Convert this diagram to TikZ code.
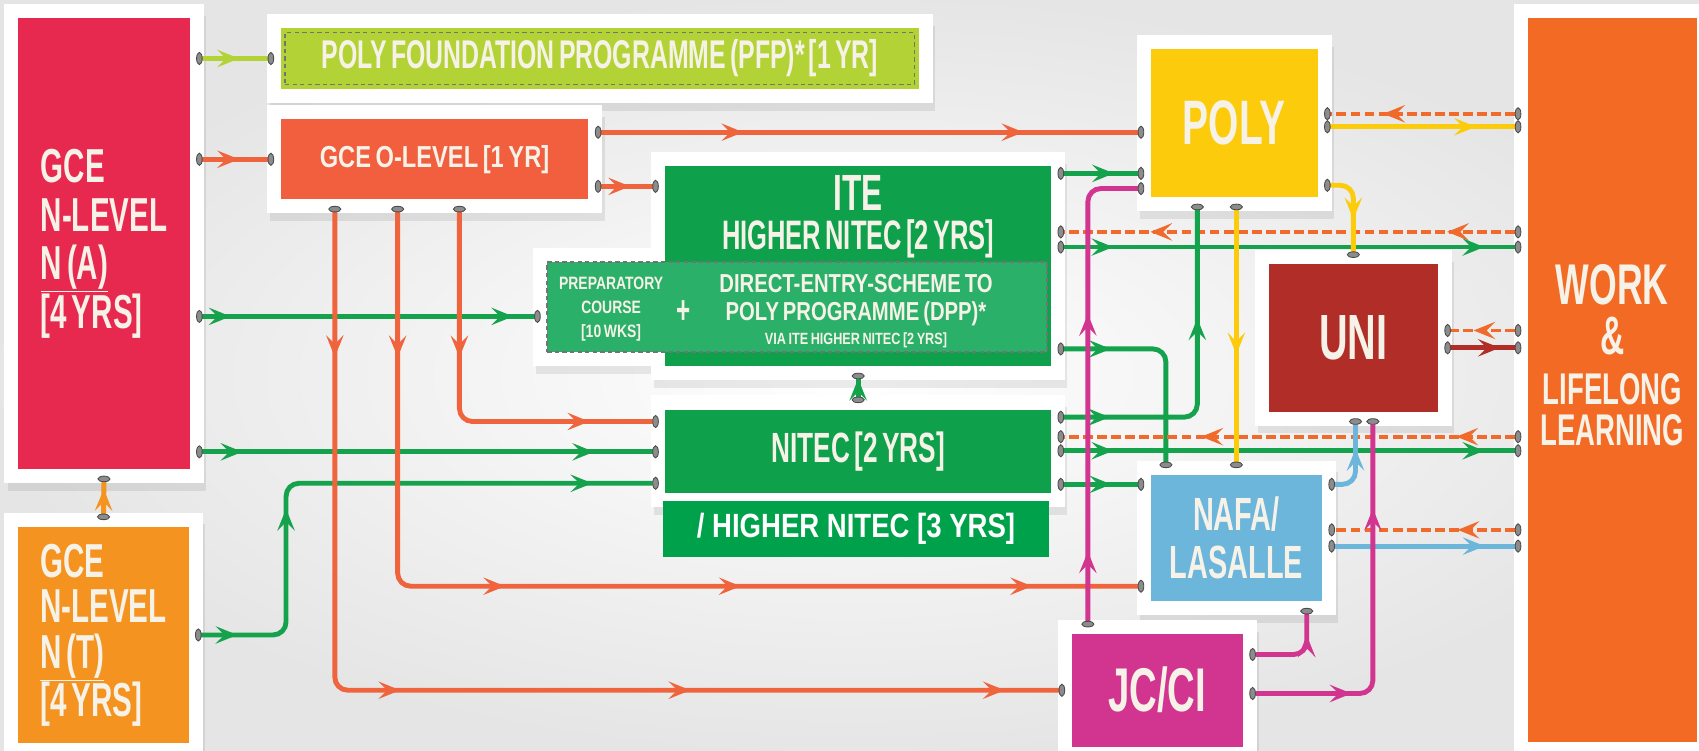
\documentclass[tikz,border=0pt]{standalone}
\usepackage{fontspec}
\usetikzlibrary{arrows.meta,decorations.markings,backgrounds}

\newfontfamily\dispfont{Liberation Sans}[FakeStretch=0.62, WordSpace=0.6]
\newfontfamily\midfont{Liberation Sans}[FakeStretch=0.78, WordSpace=0.7]
\newfontfamily\narrowfont{Liberation Sans}[FakeStretch=0.82]
\newcommand\dfont[2]{\dispfont\bfseries\fontsize{#1}{#2}\selectfont}
\newcommand\mfont[2]{\midfont\bfseries\fontsize{#1}{#2}\selectfont}

\definecolor{naRed}{HTML}{E8294F}
\definecolor{ntOrange}{HTML}{F4931F}
\definecolor{pfpLime}{HTML}{B3D235}
\definecolor{olOrange}{HTML}{F15F3F}
\definecolor{iteGreen}{HTML}{0EA04B}
\definecolor{dppGreen}{HTML}{2BB06A}
\definecolor{hnGreen}{HTML}{00A14B}
\definecolor{polyYellow}{HTML}{FCCB0B}
\definecolor{uniRed}{HTML}{B02E27}
\definecolor{nafaBlue}{HTML}{6CB5DB}
\definecolor{jcMagenta}{HTML}{D1358F}
\definecolor{workOrange}{HTML}{F26A24}
\definecolor{lnGreen}{HTML}{15A24D}
\definecolor{lnOrange}{HTML}{EF643C}
\definecolor{dashOrange}{HTML}{F06A2C}
\definecolor{txtWhite}{HTML}{F6F2E8}

\tikzset{
  box/.style={fill=#1, inner sep=0pt, outer sep=6pt, text=txtWhite, align=center},
  txt/.style={text=txtWhite, inner sep=0pt, align=center},
  term/.tip={Ellipse[length=6pt, width=12pt, fill=black!45, color=black!70, line width=0.8pt]},
  chev/.tip={Stealth[length=20pt, width=16pt, inset=8pt]},
  link/.style={line width=4.5pt, term-term, rounded corners=12pt},
  dashlink/.style={link, line width=3.5pt, dash pattern=on 9pt off 4pt},
  mid/.style={postaction={decorate, decoration={markings, mark=at position #1 with {\arrow{chev}}}}},
}

\begin{document}
\begin{tikzpicture}[x=1pt, y=-1pt]
        \useasboundingbox (0,0) rectangle (1568,693);

        % Boxes
        \node[box=naRed, minimum width=158pt, minimum height=416pt, align=left, font=\dfont{44}{45}] (na) at (96,225) {GCE\\N-LEVEL\\\underline{N (A)}\\{[4 YRS]}};
        \node[box=ntOrange, minimum width=157pt, minimum height=200pt, align=left, font=\dfont{44}{42}] (nt) at (95.5,586) {GCE\\N-LEVEL\\\underline{N (T)}\\{[4 YRS]}};
        \node[box=pfpLime, draw=pfpLime, line width=8pt, outer sep=10pt, minimum width=581pt, minimum height=48pt, font=\dfont{37}{37},
              postaction={draw=black!55, line width=1.5pt, dash pattern=on 4pt off 3pt}] (pfp) at (553.5,54) {POLY FOUNDATION PROGRAMME (PFP)* [1 YR]};
        \node[box=olOrange, minimum width=284pt, minimum height=74pt, font=\mfont{28}{28}] (olev) at (401,147) {GCE O-LEVEL [1 YR]};
        \node[box=iteGreen, minimum width=356pt, minimum height=185pt] (ite) at (792,245.5) {};
        \node[box=dppGreen, draw=black!55, line width=1.5pt, dash pattern=on 4pt off 3pt, outer sep=6pt, minimum width=461pt, minimum height=83pt] (dpp) at (735.5,283.5) {};
        \node[box=iteGreen, minimum width=356pt, minimum height=77pt, font=\dfont{39}{39}] (nitec) at (792,416.5) {NITEC [2 YRS]};
        \node[box=hnGreen, minimum width=356pt, minimum height=52pt, text=white, font=\narrowfont\bfseries\fontsize{31}{31}\selectfont] (hn3) at (790,488) {/ HIGHER NITEC [3 YRS]};
        \node[box=polyYellow, minimum width=154pt, minimum height=137pt, font=\dfont{58}{58}] (poly) at (1139,113.5) {POLY};
        \node[box=uniRed, minimum width=156pt, minimum height=136pt, font=\dfont{59}{59}] (uni) at (1249,312) {UNI};
        \node[box=nafaBlue, minimum width=158pt, minimum height=117pt, font=\dfont{43}{44}] (nafa) at (1141,496.5) {NAFA/\\LASALLE};
        \node[box=jcMagenta, minimum width=158pt, minimum height=104pt, font=\dfont{57}{57}] (jc) at (1068,637) {JC/CI};
        \node[box=workOrange, minimum width=156pt, minimum height=668pt] (work) at (1488,351) {};

        % Texts on ITE, DPP and WORK
        \node[txt, font=\dfont{47}{47}] (itetitle) at (792,178) {ITE};
        \node[txt, font=\dfont{38}{38}] (itesub) at (792,220) {HIGHER NITEC [2 YRS]};
        \node[txt, font=\mfont{16.5}{22}] (prep) at (564,285) {PREPARATORY\\COURSE\\{[10 WKS]}};
        \node[txt, font=\dfont{36}{36}] (plus) at (631,288) {+};
        \node[txt, font=\mfont{24}{24}] (dppa) at (790,262) {DIRECT-ENTRY-SCHEME TO};
        \node[txt, font=\mfont{24}{24}] (dppb) at (790,289.5) {POLY PROGRAMME (DPP)*};
        \node[txt, font=\mfont{15}{15}] (dppc) at (790,314) {VIA ITE HIGHER NITEC [2 YRS]};
        \node[txt, font=\dfont{41}{46}] (worktxt) at (1488,328) {{\fontsize{53}{48}\selectfont WORK}\\{\fontsize{50}{46}\selectfont\&}\\LIFELONG\\[-8pt]LEARNING};

        % From GCE N-Level
        \draw[link, pfpLime, mid=.55] (na.east |- pfp.west) -- (pfp.west);
        \draw[link, lnOrange, mid=.55] (na.east |- olev.west) -- (olev.west);
        \draw[link, lnGreen, mid=.1, mid=.92] (na.east |- 0,292) -- (dpp.west |- 0,292);
        \draw[link, lnGreen, mid=.1, mid=.86] (na.east |- 0,417) -- (nitec.west |- 0,417);
        \draw[link, ntOrange, mid=.7] (nt.north) -- (na.south);
        \draw[link, lnGreen, mid=.07, mid=.35, mid=.89] (nt.east) -| (264,446) -- (nitec.west |- 0,446);

        % From GCE O-Level
        \draw[link, lnOrange, mid=.27, mid=.78] (olev.east |- 0,122) -- (poly.west |- 0,122);
        \draw[link, lnOrange, mid=.55] (olev.east |- 0,172) -- (ite.west |- 0,172);
        \draw[link, lnOrange, mid=.37, mid=.83] (olev.south -| 424,0) |- (nitec.west |- 0,389);
        \draw[link, lnOrange, mid=.135, mid=.43, mid=.64, mid=.9] (olev.south -| 367,0) |- (nafa.west |- 0,541);
        \draw[link, lnOrange, mid=.125, mid=.45, mid=.69, mid=.95] (olev.south -| 309,0) |- (jc.west);

        % From ITE
        \draw[link, lnGreen, mid=.8] (nitec.north) -- (ite.south);
        \draw[link, lnGreen, mid=.65] (ite.east |- 0,160) -- (poly.west |- 0,160);
        \draw[dashlink, dashOrange, mid=.16, mid=.8] (work.west |- 0,214) -- (ite.east |- 0,214);
        \draw[link, lnGreen, mid=.12, mid=.92] (ite.east |- 0,228) -- (work.west |- 0,228);
        \draw[link, lnGreen, mid=.24] (ite.east |- 0,322) -| (nafa.north -| 1076,0);
        \draw[link, lnGreen, mid=.15, mid=.67] (nitec.east |- 0,385) -| (poly.south -| 1105,0);
        \draw[dashlink, dashOrange, mid=.14, mid=.69] (work.west |- 0,403) -- (nitec.east |- 0,403);
        \draw[link, lnGreen, mid=.12, mid=.92] (nitec.east |- 0,416) -- (work.west |- 0,416);
        \draw[link, lnGreen, mid=.62] (nitec.east |- 0,447) -- (nafa.west |- 0,447);

        % From POLY
        \draw[dashlink, dashOrange, mid=.7] (work.west |- 0,105) -- (poly.east |- 0,105);
        \draw[link, polyYellow, mid=.77] (poly.east |- 0,117) -- (work.west |- 0,117);
        \draw[link, polyYellow, mid=.6] (poly.east |- 0,171) -| (uni.north);
        \draw[link, polyYellow, mid=.57] (poly.south -| 1141,0) -- (nafa.north -| 1141,0);

        % From UNI and NAFA
        \draw[dashlink, dashOrange, mid=.62] (work.west |- 0,305) -- (uni.east |- 0,305);
        \draw[link, uniRed, mid=.72] (uni.east |- 0,321) -- (work.west |- 0,321);
        \draw[link, nafaBlue, mid=.65] (nafa.east |- 0,447) -| (uni.south -| 1251,0);
        \draw[dashlink, dashOrange, mid=.33] (work.west |- 0,489) -- (nafa.east |- 0,489);
        \draw[link, nafaBlue, mid=.81] (nafa.east |- 0,504) -- (work.west |- 0,504);

        % From JC/CI
        \draw[link, jcMagenta, mid=.155, mid=.64] (jc.north -| 1004,0) |- (poly.west |- 0,174);
        \draw[link, jcMagenta, mid=.72] (jc.east |- 0,604) -| (nafa.south -| 1206,0);
        \draw[link, jcMagenta, mid=.26, mid=.77] (jc.east |- 0,640) -| (uni.south -| 1267,0);

        % Background and white frames
        \begin{scope}[on background layer]
            \shade[inner color=white, outer color=black!10] (0,0) rectangle (1568,693);
            \foreach \n in {na,nt,pfp,olev,ite,dpp,nitec,poly,uni,nafa,jc,work}
                \fill[black, opacity=.08] ([shift={(-4,4)}]\n.north west) rectangle ([shift={(9,14)}]\n.south east);
            \foreach \n in {na,nt,pfp,olev,ite,dpp,nitec,poly,uni,nafa,jc,work}
                \draw[white, line width=14pt] (\n.north west) rectangle (\n.south east);
        \end{scope}

    \end{tikzpicture}
\end{document}
